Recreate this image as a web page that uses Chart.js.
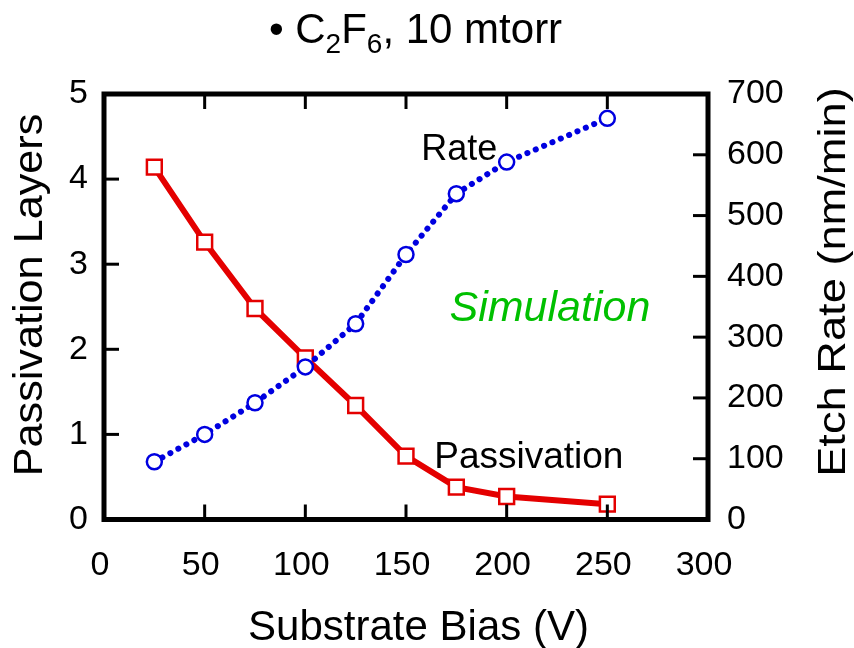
<!DOCTYPE html>
<html lang="en">
<head>
    <meta charset="UTF-8">
    <title>C2F6 Passivation and Etch Rate</title>
    <script src="https://cdn.jsdelivr.net/npm/chart.js@4.4.0/dist/chart.umd.min.js"></script>
    <style>
        body { margin: 0; background: #ffffff; }
        canvas { display: block; }
    </style>
</head>
<body>
    <canvas id="chart" width="854" height="648"></canvas>

    <script>
        // values
        const biasVolts = [25, 50, 75, 100, 125, 150, 175, 200, 250];
        const passivationLayers = [4.14, 3.26, 2.48, 1.90, 1.34, 0.745, 0.38, 0.27, 0.18];
        const etchRate = [95, 140, 192, 251, 322, 436, 536, 588, 660];

        const xTicks = [0, 50, 100, 150, 200, 250, 300];
        const leftTicks = [0, 1, 2, 3, 4, 5];
        const rightTicks = [0, 100, 200, 300, 400, 500, 600, 700];

        const FONT = 'Liberation Sans, Arial, sans-serif';
        const RED = '#e40000';
        const BLUE = '#0000e0';

        // draws rotated text reading bottom-to-top, stretched along its length
        function vText(ctx, text, x, y, size, stretch) {
            ctx.save();
            ctx.translate(x, y);
            ctx.rotate(-Math.PI / 2);
            ctx.scale(stretch, 1);
            ctx.font = size + 'px ' + FONT;
            ctx.textAlign = 'center';
            ctx.textBaseline = 'alphabetic';
            ctx.fillText(text, 0, 0);
            ctx.restore();
        }

        const frameAndNotes = {
            id: 'frameAndNotes',
            afterDatasetsDraw(chart) {
                const { ctx, chartArea: a, scales } = chart;
                ctx.save();
                ctx.strokeStyle = '#000';
                ctx.lineCap = 'butt';

                // inside tick marks
                ctx.lineWidth = 3;
                const tl = 15;
                xTicks.slice(1, -1).forEach(v => {
                    const px = scales.x.getPixelForValue(v);
                    ctx.beginPath();
                    ctx.moveTo(px, a.bottom); ctx.lineTo(px, a.bottom - tl);
                    ctx.moveTo(px, a.top); ctx.lineTo(px, a.top + tl);
                    ctx.stroke();
                });
                leftTicks.slice(1, -1).forEach(v => {
                    const py = scales.y.getPixelForValue(v);
                    ctx.beginPath();
                    ctx.moveTo(a.left, py); ctx.lineTo(a.left + tl, py);
                    ctx.stroke();
                });
                rightTicks.slice(1, -1).forEach(v => {
                    const py = scales.y1.getPixelForValue(v);
                    ctx.beginPath();
                    ctx.moveTo(a.right, py); ctx.lineTo(a.right - tl, py);
                    ctx.stroke();
                });

                // frame
                ctx.lineWidth = 5;
                ctx.strokeRect(a.left, a.top, a.right - a.left, a.bottom - a.top);

                // text notes placed in data coordinates
                ctx.textAlign = 'center';
                ctx.textBaseline = 'middle';
                ctx.fillStyle = '#000';
                ctx.font = '36px ' + FONT;
                ctx.fillText('Rate', scales.x.getPixelForValue(176.5), scales.y.getPixelForValue(4.34));
                ctx.font = '37px ' + FONT;
                ctx.fillText('Passivation', scales.x.getPixelForValue(211), scales.y.getPixelForValue(0.73));
                ctx.fillStyle = '#00c000';
                ctx.font = 'italic 43px ' + FONT;
                ctx.fillText('Simulation', scales.x.getPixelForValue(221.5), scales.y.getPixelForValue(2.47));

                // axis titles
                ctx.fillStyle = '#000';
                ctx.textAlign = 'center';
                ctx.textBaseline = 'alphabetic';
                ctx.font = '42px ' + FONT;
                ctx.fillText('Substrate Bias (V)', 418.5, 640);
                vText(ctx, 'Passivation Layers', 42, 295, 40, 1.08);
                vText(ctx, 'Etch Rate (nm/min)', 845, 282, 39, 1.16);

                // title with subscripts
                ctx.textAlign = 'left';
                const parts = [
                    ['\u2022 C', 42, 0], ['2', 28, 10], ['F', 42, 0], ['6', 28, 10], [', 10 mtorr', 42, 0]
                ];
                let w = 0;
                parts.forEach(p => { ctx.font = p[1] + 'px ' + FONT; w += ctx.measureText(p[0]).width; });
                let tx = 415.5 - w / 2;
                parts.forEach(p => {
                    ctx.font = p[1] + 'px ' + FONT;
                    ctx.fillText(p[0], tx, 43 + p[2]);
                    tx += ctx.measureText(p[0]).width;
                });
                ctx.restore();
            }
        };

        const ctx = document.getElementById('chart').getContext('2d');
        new Chart(ctx, {
            type: 'line',
            data: {
                labels: biasVolts,
                datasets: [{
                    label: 'Rate',
                    data: biasVolts.map((v, i) => ({ x: v, y: etchRate[i] })),
                    yAxisID: 'y1',
                    borderColor: BLUE,
                    borderWidth: 6,
                    borderDash: [0.1, 9],
                    borderCapStyle: 'round',
                    pointStyle: 'circle',
                    pointRadius: 7.5,
                    pointBorderWidth: 2.5,
                    pointBorderColor: BLUE,
                    pointBackgroundColor: '#ffffff',
                    tension: 0
                }, {
                    label: 'Passivation',
                    data: biasVolts.map((v, i) => ({ x: v, y: passivationLayers[i] })),
                    yAxisID: 'y',
                    borderColor: RED,
                    borderWidth: 6,
                    pointStyle: 'rect',
                    pointRadius: 10.5,
                    pointBorderWidth: 2.5,
                    pointBorderColor: RED,
                    pointBackgroundColor: '#ffffff',
                    tension: 0
                }]
            },
            options: {
                responsive: false,
                animation: false,
                layout: { padding: { top: 94, left: 0, right: 0, bottom: 0 } },
                plugins: {
                    legend: { display: false },
                    tooltip: { enabled: false }
                },
                scales: {
                    x: {
                        type: 'linear',
                        position: 'bottom',
                        min: 0, max: 300,
                        afterFit: s => { s.height = 128.5; },
                        afterBuildTicks: s => { s.ticks = xTicks.map(v => ({ value: v })); },
                        grid: { display: false, drawTicks: false },
                        border: { display: false },
                        ticks: { color: '#000', padding: 26, labelOffset: -4, font: { family: FONT, size: 34 }, maxRotation: 0 },
                        title: { display: false }
                    },
                    y: {
                        position: 'left',
                        min: 0, max: 5,
                        afterFit: s => { s.width = 104; },
                        afterBuildTicks: s => { s.ticks = leftTicks.map(v => ({ value: v })); },
                        grid: { display: false, drawTicks: false },
                        border: { display: false },
                        ticks: { color: '#000', padding: 16, font: { family: FONT, size: 34 } },
                        title: { display: false }
                    },
                    y1: {
                        position: 'right',
                        min: 0, max: 700,
                        afterFit: s => { s.width = 146; },
                        afterBuildTicks: s => { s.ticks = rightTicks.map(v => ({ value: v })); },
                        grid: { display: false, drawTicks: false },
                        border: { display: false },
                        ticks: { color: '#000', padding: 19, font: { family: FONT, size: 34 } },
                        title: { display: false }
                    }
                }
            },
            plugins: [frameAndNotes]
        });
    </script>
</body>
</html>
